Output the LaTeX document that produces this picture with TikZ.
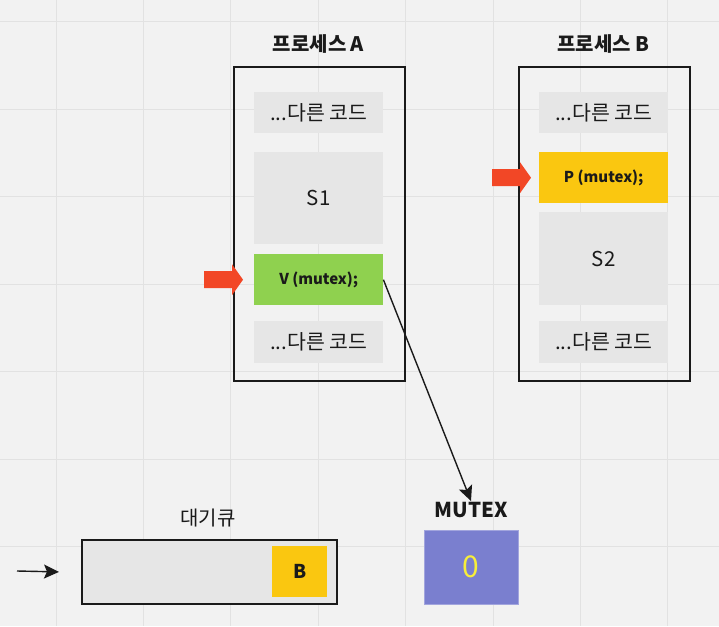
\documentclass[tikz,border=0pt]{standalone}
\usepackage{fontspec}
\setmainfont{Noto Sans CJK KR}
\usetikzlibrary{positioning,arrows.meta}
\definecolor{boardbg}{HTML}{F2F2F2}
\definecolor{gridgray}{HTML}{E2E2E2}
\definecolor{codegray}{HTML}{E6E6E6}
\definecolor{ink}{HTML}{1A1A1A}
\definecolor{vgreen}{HTML}{8FD14F}
\definecolor{pyellow}{HTML}{FAC710}
\definecolor{pointred}{HTML}{F24726}
\definecolor{mutexblue}{HTML}{7A7FCF}
\definecolor{zeroyellow}{HTML}{F7EE3A}
\tikzset{
  frame/.style={draw=ink, line width=1.5pt, anchor=north west, inner sep=0pt, minimum width=171pt, minimum height=314pt},
  code/.style={fill=codegray, anchor=north west, inner sep=0pt, minimum width=129pt, text=ink, font=\fontsize{20.5}{22}\selectfont},
  hot/.style={code, font=\fontsize{15}{17}\selectfont\bfseries},
  title/.style={text=ink, inner sep=1pt, font=\fontsize{20}{22}\selectfont\bfseries},
  link/.style={draw=ink, line width=1.4pt, -{Stealth[length=15pt, width=14pt, inset=3pt]}},
  pointer/.pic={\fill[pointred] (-39,-8.5) -- (-11,-8.5) -- (-11,-15.5) -- (0,0) -- (-11,15.5) -- (-11,8.5) -- (-39,8.5) -- cycle;}
}

\begin{document}
\begin{tikzpicture}[x=1pt, y=-1pt]
  \fill[boardbg] (0,0) rectangle (719,626);
  \useasboundingbox (0,0) rectangle (719,626);
  \foreach \g in {0,...,7}
    \draw[gridgray, line width=1pt] ({56+87.4*\g},0) -- ({56+87.4*\g},626);
  \foreach \g in {0,...,6}
    \draw[gridgray, line width=1pt] (0,{22+87.4*\g}) -- (719,{22+87.4*\g});

  % process A
  \node[frame] (procA) at (233,66) {};
  \node[title] (titleA) at (318.5,44) {프로세스 A};
  \node[code, minimum height=41pt] (otherA1) at (254,92) {...다른 코드};
  \node[code, minimum height=92pt] (S1) at (254,152) {S1};
  \node[hot, fill=vgreen, minimum height=51pt] (vmutex) at (254,254) {V (mutex);};
  \node[code, minimum height=42pt] (otherA2) at (254,321) {...다른 코드};
  \pic at ([xshift=-11pt]vmutex.west) {pointer};

  % process B
  \node[frame] (procB) at (518,66) {};
  \node[title] (titleB) at (603.5,44) {프로세스 B};
  \node[code, minimum height=41pt] (otherB1) at (539,92) {...다른 코드};
  \node[hot, fill=pyellow, minimum height=51pt] (pmutex) at (539,152) {P (mutex);};
  \node[code, minimum height=93pt] (S2) at (539,212) {S2};
  \node[code, minimum height=42pt] (otherB2) at (539,321) {...다른 코드};
  \pic at ([xshift=-8pt]pmutex.west) {pointer};

  % mutex
  \node[title, font=\fontsize{20.5}{22}\selectfont\bfseries] (mutexlbl) at (471,510) {MUTEX};
  \node[fill=mutexblue, draw=mutexblue!70!white, anchor=north west, minimum width=94pt, minimum height=74pt, inner sep=0pt,
        text=zeroyellow, font=\fontsize{30}{32}\selectfont] (mutex) at (424,530) {0};
  \draw[link] (vmutex.east) -- (mutexlbl.north);

  % wait queue
  \node[draw=ink, line width=1.8pt, fill=codegray, anchor=north west, minimum width=255pt, minimum height=64pt, inner sep=0pt] (queue) at (81,539) {};
  \node[text=ink, font=\fontsize{20}{22}\selectfont] (queuelbl) at (208,518) {대기큐};
  \node[fill=pyellow, anchor=north west, minimum width=55pt, minimum height=51pt, inner sep=0pt, text=ink,
        font=\fontsize{19}{21}\selectfont\bfseries] (waitB) at (272,546) {B};
  \coordinate (qin) at (17,571);
  \draw[link] (qin) -- ([xshift=-22pt]queue.west);
\end{tikzpicture}
\end{document}
